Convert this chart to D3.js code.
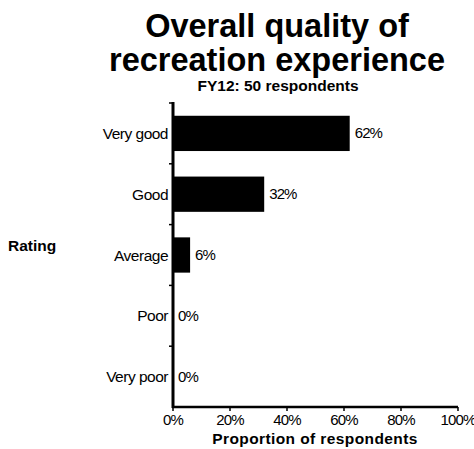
<!DOCTYPE html>
<html><head><meta charset="utf-8">
<script src="https://cdn.jsdelivr.net/npm/d3@7"></script>
<style>body{margin:0;background:#fff;} text{font-family:"Liberation Sans",Arial,sans-serif;}</style>
</head><body>
<svg id="c" width="474" height="449"></svg>
<script>
const categories = ["Very good","Good","Average","Poor","Very poor"];
const values = [62,32,6,0,0];
const xTicks = [0,20,40,60,80,100];
const titleLines = ["Overall quality of","recreation experience"];
const subtitle = "FY12: 50 respondents";

const svg = d3.select("#c");
const m = {left:173, top:103};
const x = d3.scaleLinear().domain([0,100]).range([m.left, 458]);
const y = d3.scaleBand().domain(categories).range([m.top, 407]).paddingInner(0.42).paddingOuter(0.21);

svg.selectAll(".t").data(titleLines).join("text")
  .attr("x",277).attr("y",(d,i)=>37+i*34).attr("text-anchor","middle")
  .attr("font-size",32.5).attr("font-weight","bold").text(d=>d);
svg.append("text").attr("x",278).attr("y",91).attr("text-anchor","middle")
  .attr("font-size",15.5).attr("font-weight","bold").text(subtitle);

svg.selectAll(".bar").data(values).join("rect")
  .attr("x",x(0)).attr("y",(d,i)=>y(categories[i]))
  .attr("width",d=>x(d)-x(0)).attr("height",y.bandwidth()).attr("fill","#000");

svg.selectAll(".vl").data(values).join("text")
  .attr("x",d=>x(d)+5).attr("y",(d,i)=>y(categories[i])+y.bandwidth()/2+5)
  .attr("font-size",15).attr("letter-spacing",-0.9).text(d=>d+"%");

svg.selectAll(".cl").data(categories).join("text")
  .attr("x",168).attr("y",d=>y(d)+y.bandwidth()/2+5.5).attr("text-anchor","end")
  .attr("font-size",15.5).attr("letter-spacing",-0.5).text(d=>d);

svg.append("line").attr("x1",x(0)).attr("x2",x(0)).attr("y1",m.top-1).attr("y2",408)
  .attr("stroke","#000").attr("stroke-width",3);
const bounds = categories.map(c=>y(c)-y.step()*y.paddingInner()/2);
svg.selectAll(".yt").data(bounds).join("line")
  .attr("x1",x(0)-4).attr("x2",x(0)).attr("y1",d=>d).attr("y2",d=>d)
  .attr("stroke","#000").attr("stroke-width",1.5);

svg.append("line").attr("x1",x(0)-1).attr("x2",x(100)).attr("y1",407).attr("y2",407)
  .attr("stroke","#000").attr("stroke-width",2.5);
svg.selectAll(".xt").data(xTicks).join("line")
  .attr("x1",d=>x(d)).attr("x2",d=>x(d)).attr("y1",407).attr("y2",411)
  .attr("stroke","#000").attr("stroke-width",1.5);
svg.selectAll(".xl").data(xTicks).join("text")
  .attr("x",d=>x(d)).attr("y",425).attr("text-anchor","middle")
  .attr("font-size",15).attr("letter-spacing",-0.9).text(d=>d+"%");

svg.append("text").attr("x",315).attr("y",444).attr("text-anchor","middle")
  .attr("font-size",15.5).attr("font-weight","bold").attr("letter-spacing",0.4).text("Proportion of respondents");
svg.append("text").attr("x",8).attr("y",251)
  .attr("font-size",15.5).attr("font-weight","bold").text("Rating");
</script>
</body></html>
